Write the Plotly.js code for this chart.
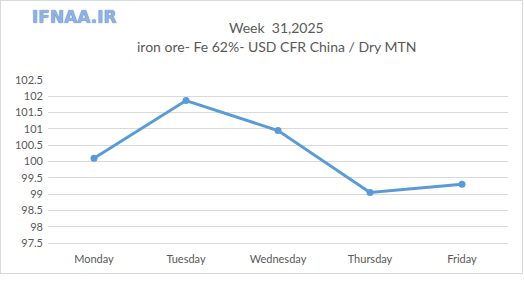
<!DOCTYPE html>
<html>
<head>
<meta charset="utf-8">
<script src="https://cdn.plot.ly/plotly-3.0.1.min.js"></script>
<style>
  html, body { margin: 0; padding: 0; background: #ffffff; }
  #frame { position: absolute; left: 0; top: 0; width: 521px; height: 272px; border: 1px solid #d9d9d9; }
  #chart { width: 521px; height: 272px; }
</style>
</head>
<body>
<div id="frame"><div id="chart"></div></div>
<script>
const days = ["Monday", "Tuesday", "Wednesday", "Thursday", "Friday"];
const prices = [100.1, 101.87, 100.95, 99.05, 99.3];
const yTicks = [97.5, 98, 98.5, 99, 99.5, 100, 100.5, 101, 101.5, 102, 102.5];
const titleLine1 = "Week  31,2025";
const titleLine2 = "iron ore- Fe 62%- USD CFR China / Dry MTN";
const logoText = "IFNAA.IR";

const fontFam = "Lato, 'Open Sans', sans-serif";

Plotly.newPlot("chart", [{
  x: days,
  y: prices,
  type: "scatter",
  mode: "lines+markers",
  line: { color: "#5b9bd5", width: 3 },
  marker: { color: "#5b9bd5", size: 7 },
  hoverinfo: "skip"
}], {
  width: 521,
  height: 272,
  margin: { l: 47, r: 13.5, t: 79.3, b: 30.3 },
  paper_bgcolor: "#ffffff",
  plot_bgcolor: "#ffffff",
  showlegend: false,
  font: { family: fontFam, color: "#595959", size: 11 },
  xaxis: {
    type: "category",
    range: [-0.5, 4.5],
    showgrid: false,
    showline: true,
    linecolor: "#d9d9d9",
    linewidth: 1,
    ticks: "",
    ticklabelstandoff: 6,
    tickfont: { size: 11, color: "#595959" },
    zeroline: false,
    fixedrange: true
  },
  yaxis: {
    range: [97.5, 102.5],
    tickmode: "array",
    tickvals: yTicks,
    ticktext: yTicks.map(String),
    showgrid: true,
    gridcolor: "#d9d9d9",
    gridwidth: 1,
    showline: false,
    zeroline: false,
    ticks: "",
    ticklabelstandoff: 4,
    tickfont: { size: 11, color: "#595959" },
    fixedrange: true
  },
  annotations: [
    { text: titleLine1, xref: "paper", yref: "paper", x: 0.497, y: (272 - 30.3 - 27) / (272 - 79.3 - 30.3) , xanchor: "center", yanchor: "middle", showarrow: false,
      font: { size: 14, color: "#595959", family: fontFam } },
    { text: titleLine2, xref: "paper", yref: "paper", x: 0.497, y: (272 - 30.3 - 46) / (272 - 79.3 - 30.3), xanchor: "center", yanchor: "middle", showarrow: false,
      font: { size: 14, color: "#595959", family: fontFam } },
    { text: "<b>" + logoText + "</b>", xref: "paper", yref: "paper", x: (29 - 47) / (521 - 47 - 13.5), y: (272 - 30.3 - 17) / (272 - 79.3 - 30.3), xanchor: "left", yanchor: "middle", showarrow: false,
      font: { size: 17, color: "#8fb2e2", family: "'DejaVu Sans', sans-serif", shadow: "0 0 1px #2f5fa8" } }
  ]
}, { displayModeBar: false, staticPlot: true });
</script>
</body>
</html>
